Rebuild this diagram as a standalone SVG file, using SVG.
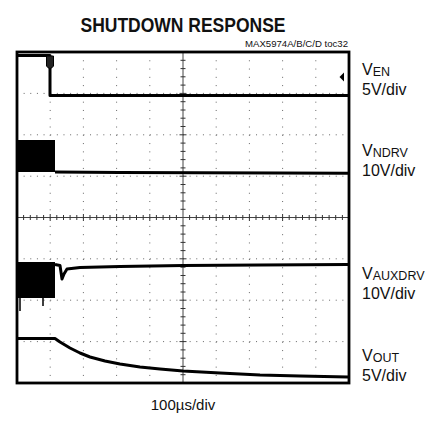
<svg xmlns="http://www.w3.org/2000/svg" width="425" height="424" viewBox="0 0 425 424">
<style>
text{font-family:"Liberation Sans",Arial,sans-serif;fill:#111}
.grid{stroke:#666;stroke-width:1;fill:none}
.gh{stroke-dasharray:1 5.64}
.gv{stroke-dasharray:1 7.28}
.tr{fill:none;stroke:#000;stroke-width:3;stroke-linejoin:round}
.lbl{font-size:16px}
.sub{font-size:12.5px}
</style>
<rect width="425" height="424" fill="#fff"/>
<text x="183" y="32" font-size="21" font-weight="bold" text-anchor="middle" textLength="205" lengthAdjust="spacingAndGlyphs">SHUTDOWN RESPONSE</text>
<text x="348" y="47" font-size="9.5" text-anchor="end" textLength="103" lengthAdjust="spacingAndGlyphs" fill="#333">MAX5974A/B/C/D toc32</text>
<g id="grid">
<path class="grid gh" d="M17 93.4H349M17 134.8H349M17 176.2H349M17 258.8H349M17 300.2H349M17 341.6H349"/>
<path class="grid gv" d="M50.2 52V383M83.4 52V383M116.6 52V383M149.8 52V383M216.2 52V383M249.4 52V383M282.6 52V383M315.8 52V383"/>
<path d="M17 217.5H349M183 52V383" stroke="#444" stroke-width="1"/>
<path d="M23.6 215V220M30.3 215V220M36.9 215V220M43.6 215V220M56.8 215V220M63.5 215V220M70.1 215V220M76.8 215V220M90 215V220M96.7 215V220M103.3 215V220M110 215V220M123.2 215V220M129.9 215V220M136.5 215V220M143.2 215V220M156.4 215V220M163.1 215V220M169.7 215V220M176.4 215V220M189.6 215V220M196.3 215V220M202.9 215V220M209.6 215V220M222.8 215V220M229.5 215V220M236.1 215V220M242.8 215V220M256 215V220M262.7 215V220M269.3 215V220M276 215V220M289.2 215V220M295.9 215V220M302.5 215V220M309.2 215V220M322.4 215V220M329.1 215V220M335.7 215V220M342.4 215V220M50.2 214V221M83.4 214V221M116.6 214V221M149.8 214V221M216.2 214V221M249.4 214V221M282.6 214V221M315.8 214V221" stroke="#333" stroke-width="1"/>
<path d="M180.5 60.3H185.5M180.5 68.6H185.5M180.5 76.8H185.5M180.5 85.1H185.5M180.5 101.7H185.5M180.5 110H185.5M180.5 118.2H185.5M180.5 126.5H185.5M180.5 143.1H185.5M180.5 151.4H185.5M180.5 159.6H185.5M180.5 167.9H185.5M180.5 184.5H185.5M180.5 192.8H185.5M180.5 201H185.5M180.5 209.3H185.5M180.5 225.8H185.5M180.5 234.1H185.5M180.5 242.4H185.5M180.5 250.6H185.5M180.5 267.2H185.5M180.5 275.5H185.5M180.5 283.7H185.5M180.5 292H185.5M180.5 308.5H185.5M180.5 316.8H185.5M180.5 325.1H185.5M180.5 333.3H185.5M180.5 349.9H185.5M180.5 358.2H185.5M180.5 366.4H185.5M180.5 374.7H185.5M179.5 93.4H186.5M179.5 134.8H186.5M179.5 176.2H186.5M179.5 258.8H186.5M179.5 300.2H186.5M179.5 341.6H186.5" stroke="#333" stroke-width="1"/>
</g>
<g id="traces">
<g id="ven">
<path class="tr" d="M17 55.5H50V95.5H348" stroke-width="2.8"/>
<path d="M46.5 56H53.5V66Q50 71 46.5 66Z" fill="#222" stroke="#000" stroke-width="1"/>
<path d="M344 72.5L339.5 77L344 81.5Z" fill="#000"/>
</g>
<g id="vndrv">
<rect x="17" y="140" width="38" height="32" fill="#000"/>
<path class="tr" d="M55 172L120 172.5L200 172.8L280 173L348 173.3"/>
</g>
<g id="vauxdrv">
<rect x="17" y="262" width="38" height="36" fill="#000"/>
<path class="tr" d="M55 264.5L60 265.5L62 279L64 274L67 269L80 267.5L120 266.5L183 265.5L260 265L348 264.5"/>
<path d="M20 297V311M43 297V306" stroke="#000" stroke-width="1.5"/>
</g>
<g id="vout">
<path class="tr" d="M17 338.5H55L60 342L70 348L80 353L90 357L105 361L120 364L140 367L160 369L183 371L220 373L260 375L300 376L348 377"/>
</g>
</g>
<rect x="17" y="52" width="332" height="331" fill="none" stroke="#000" stroke-width="2.8"/>
<g id="labels">
<text class="lbl" x="362" y="75">V<tspan class="sub" dy="1">EN</tspan></text>
<text class="lbl" x="362" y="95">5V/div</text>
<text class="lbl" x="362" y="156">V<tspan class="sub" dy="1">NDRV</tspan></text>
<text class="lbl" x="362" y="176">10V/div</text>
<text class="lbl" x="362" y="279">V<tspan class="sub" dy="1">AUXDRV</tspan></text>
<text class="lbl" x="362" y="299">10V/div</text>
<text class="lbl" x="362" y="361">V<tspan class="sub" dy="1">OUT</tspan></text>
<text class="lbl" x="362" y="381">5V/div</text>
<text x="183" y="410" font-size="15" text-anchor="middle">100µs/div</text>
</g>
</svg>
